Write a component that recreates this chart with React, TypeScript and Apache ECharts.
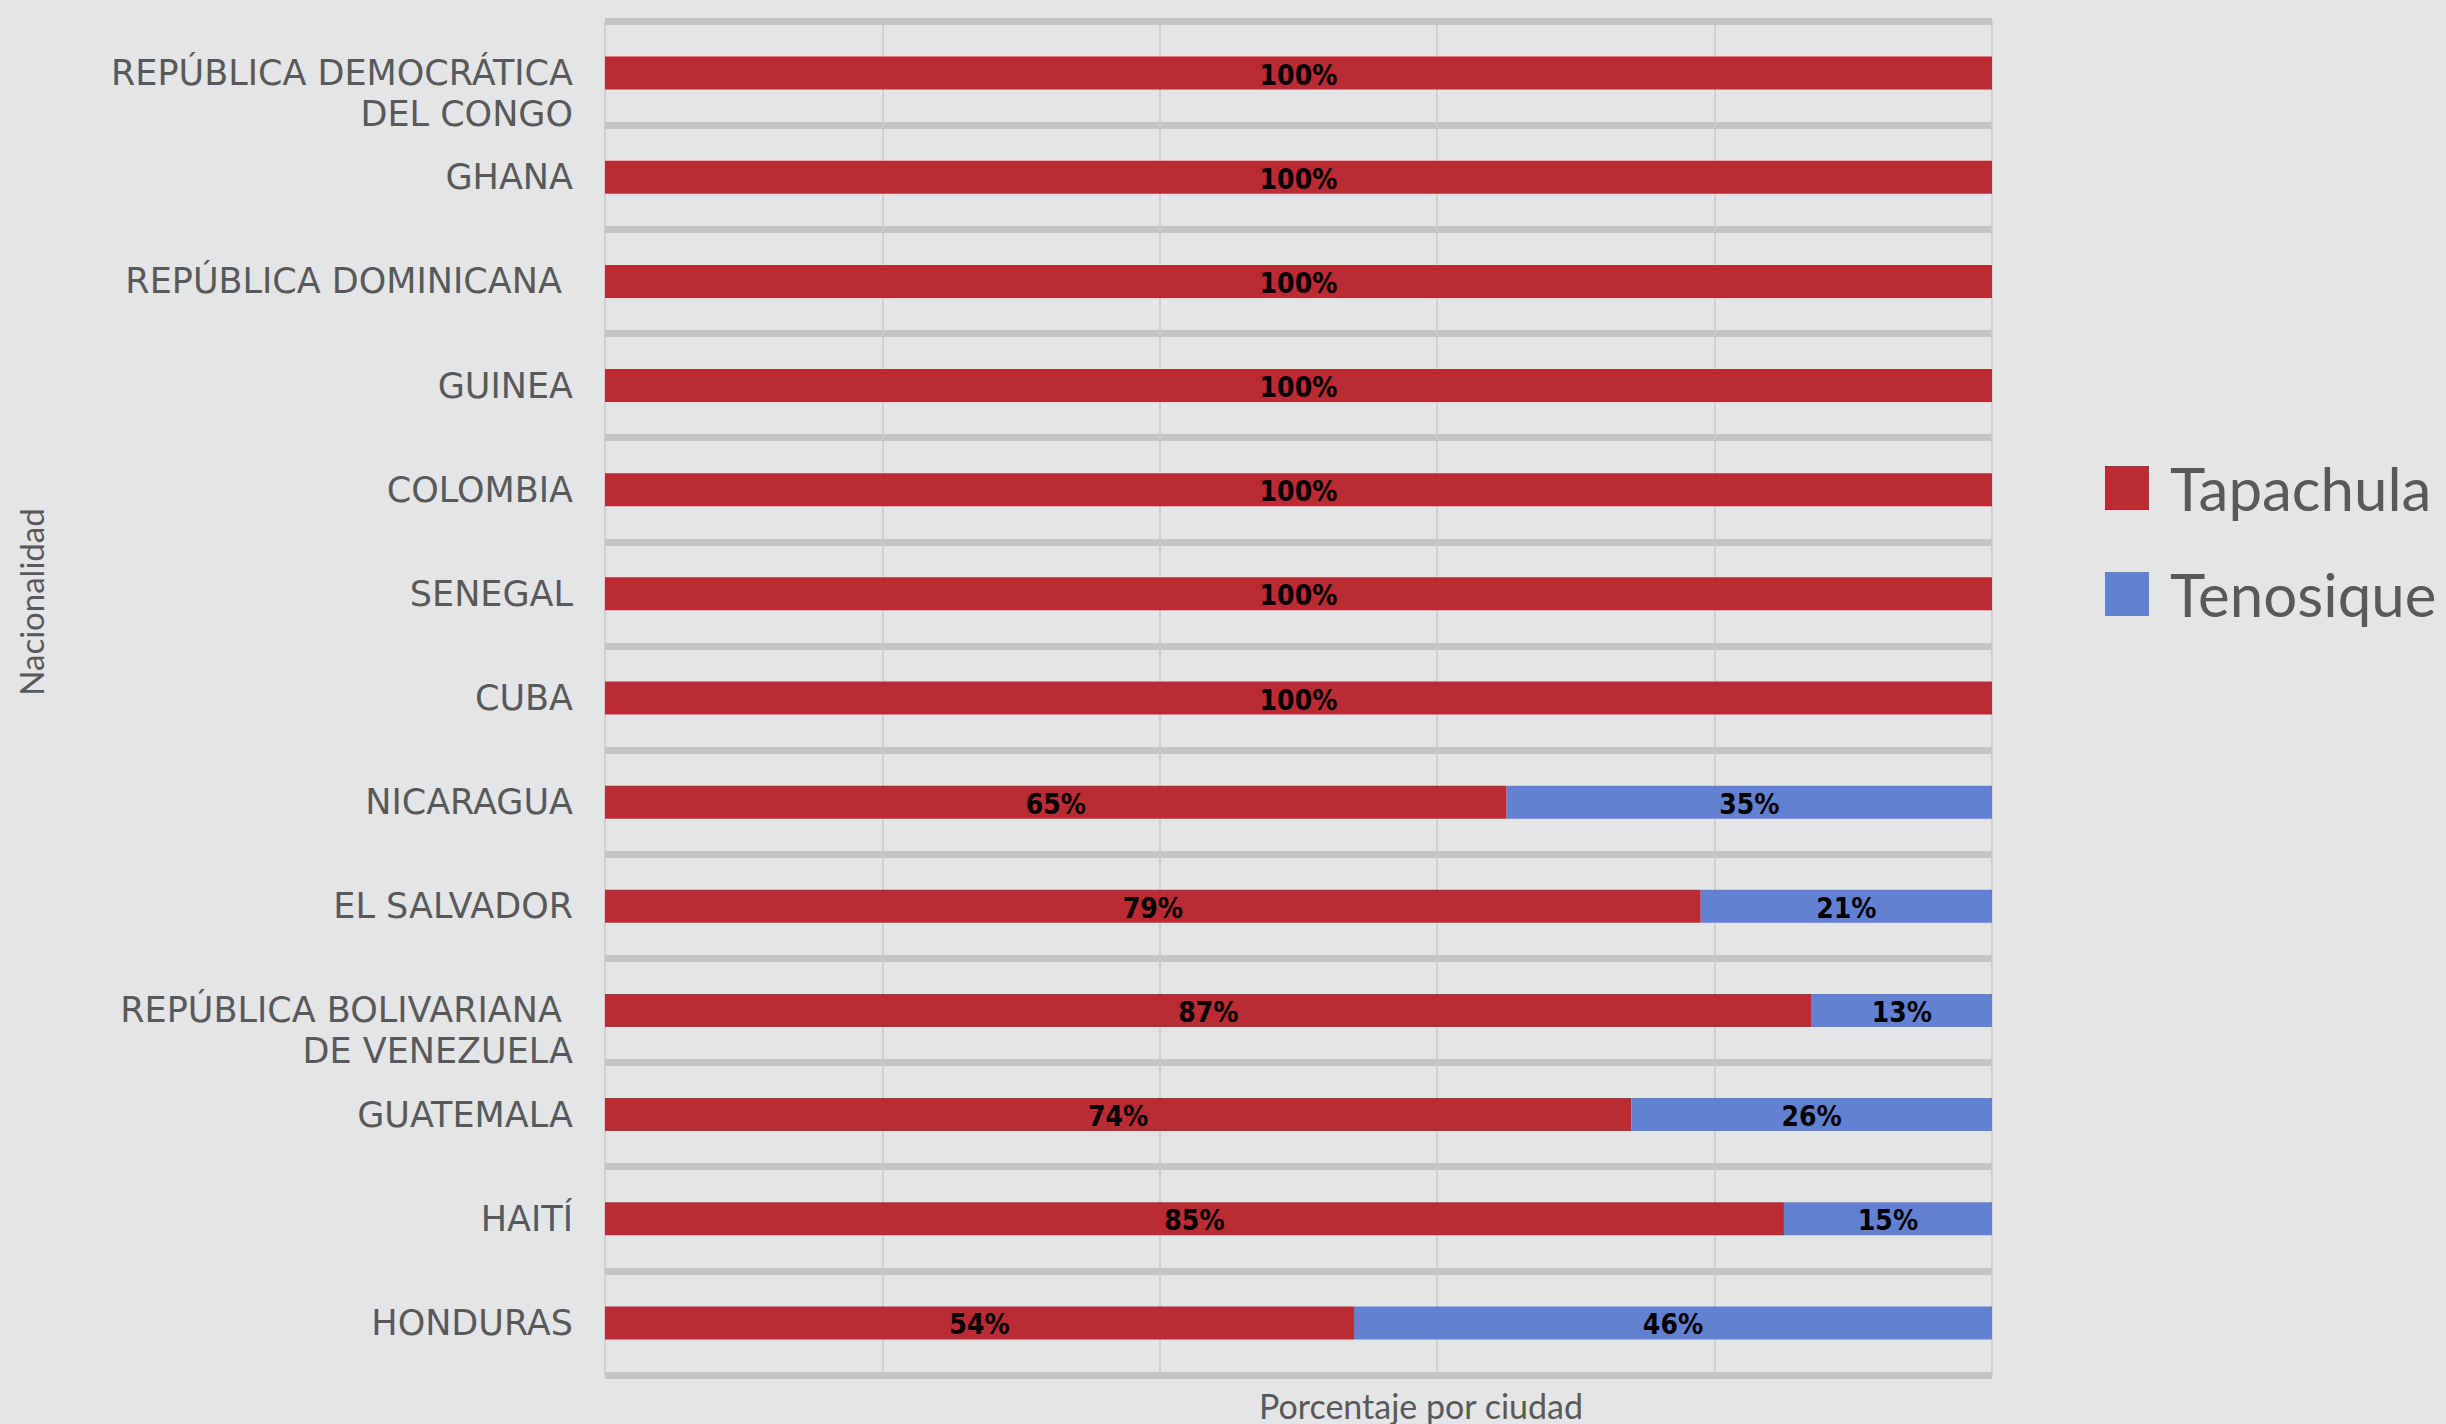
import React, { useEffect, useRef } from "react";
import * as echarts from "echarts";

const categories = [
  "REPÚBLICA DEMOCRÁTICA\nDEL CONGO",
  "GHANA",
  "REPÚBLICA DOMINICANA ",
  "GUINEA",
  "COLOMBIA",
  "SENEGAL",
  "CUBA",
  "NICARAGUA",
  "EL SALVADOR",
  "REPÚBLICA BOLIVARIANA \nDE VENEZUELA",
  "GUATEMALA",
  "HAITÍ",
  "HONDURAS",
];
const tapachula = [100, 100, 100, 100, 100, 100, 100, 65, 79, 87, 74, 85, 54];
const tenosique = [0, 0, 0, 0, 0, 0, 0, 35, 21, 13, 26, 15, 46];
const seriesNames = ["Tapachula", "Tenosique"];
const xTicks = [0, 20, 40, 60, 80, 100];

const RED = "#BA2B33";
const BLUE = "#6381D2";
const TXT = "#595959";

export default function App() {
  const ref = useRef<HTMLDivElement>(null);
  useEffect(() => {
    document.body.style.margin = "0";
    const chart = echarts.init(ref.current!, null, { renderer: "svg" });
    const dataLabel = {
      show: true,
      position: "inside",
      color: "#000",
      fontWeight: "bold",
      fontSize: 28,
      fontFamily: "'Liberation Sans Narrow', 'DejaVu Sans Condensed', sans-serif",
      offset: [0, 2],
      formatter: (p: any) => (p.value > 0 ? `${p.value}%` : ""),
    };
    chart.setOption({
      animation: false,
      backgroundColor: "#E4E5E7",
      grid: { left: 605, right: 454, top: 21, height: 1354, containLabel: false },
      xAxis: {
        type: "value",
        min: xTicks[0],
        max: xTicks[xTicks.length - 1],
        interval: xTicks[1] - xTicks[0],
        axisLabel: { show: false },
        axisLine: { show: false },
        axisTick: { show: false },
        splitLine: { show: true, lineStyle: { color: "#C9C9C9", width: 1.5 } },
      },
      yAxis: {
        type: "category",
        inverse: true,
        data: categories,
        axisLine: { show: false },
        axisTick: { show: false },
        splitLine: { show: true, lineStyle: { color: "#C4C4C4", width: 7 } },
        axisLabel: {
          margin: 32,
          color: TXT,
          fontSize: 35,
          lineHeight: 41,
          fontFamily: "'DejaVu Sans', sans-serif",
          align: "right",
          formatter: (v: string) => (v.includes("\n") ? " \n" + v : v),
        },
      },
      legend: {
        orient: "vertical",
        left: 2105,
        top: 458,
        padding: 0,
        itemWidth: 44,
        itemHeight: 44,
        itemGap: 46,
        icon: "rect",
        data: seriesNames,
        textStyle: {
          color: TXT,
          fontSize: 60,
          lineHeight: 60,
          fontFamily: "Lato, sans-serif",
          padding: [0, 0, 0, 16],
        },
      },
      graphic: [
        {
          type: "text",
          x: 31,
          y: 602,
          rotation: Math.PI / 2,
          style: {
            text: "Nacionalidad",
            fill: TXT,
            fontSize: 33,
            fontFamily: "Lato, sans-serif",
            align: "center",
            verticalAlign: "middle",
          },
        },
        {
          type: "text",
          x: 1421,
          y: 1405,
          style: {
            text: "Porcentaje por ciudad",
            fill: TXT,
            fontSize: 34,
            fontFamily: "Lato, sans-serif",
            align: "center",
            verticalAlign: "middle",
          },
        },
      ],
      series: [
        {
          name: seriesNames[0],
          type: "bar",
          stack: "total",
          barWidth: 33,
          data: tapachula,
          itemStyle: { color: RED },
          label: dataLabel,
        },
        {
          name: seriesNames[1],
          type: "bar",
          stack: "total",
          barWidth: 33,
          data: tenosique,
          itemStyle: { color: BLUE },
          label: dataLabel,
        },
      ],
    });
    return () => chart.dispose();
  }, []);
  return <div ref={ref} style={{ width: 2446, height: 1424 }} />;
}
